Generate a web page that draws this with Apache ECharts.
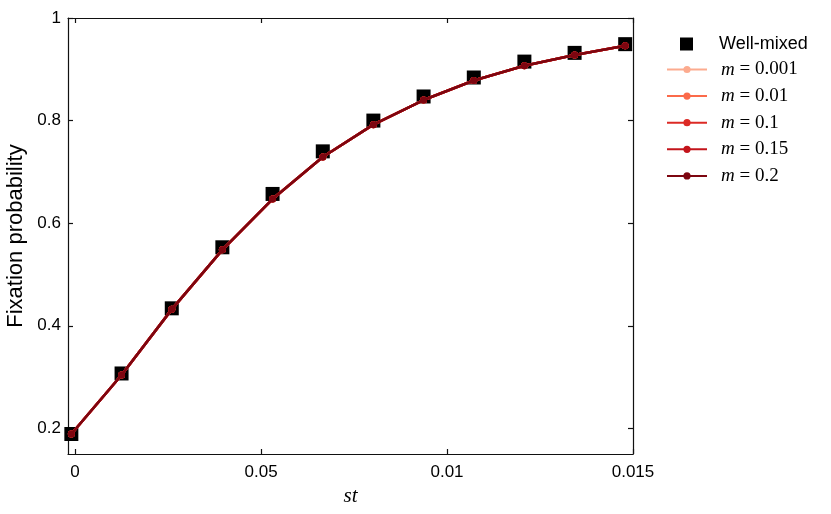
<!DOCTYPE html>
<html>
<head>
<meta charset="utf-8">
<script src="https://cdn.jsdelivr.net/npm/echarts@6/dist/echarts.min.js"></script>
<style>
html,body{margin:0;padding:0;background:#fff;}
#chart{width:831px;height:514px;}
</style>
</head>
<body>
<div id="chart"></div>
<script>
// x positions (st) of the simulated points
const xValues = [-0.0001, 0.00125, 0.0026, 0.00396, 0.00531, 0.00666, 0.00802, 0.00937, 0.01072, 0.01208, 0.01343, 0.01479];
// Well-mixed fixation probabilities (black squares)
const wellMixed = [0.189, 0.307, 0.434, 0.553, 0.657, 0.740, 0.800, 0.847, 0.884, 0.915, 0.932, 0.949];
// Metapopulation curves for different migration rates
const m0001 = [0.189, 0.304, 0.432, 0.548, 0.647, 0.729, 0.792, 0.840, 0.878, 0.907, 0.928, 0.946];
const m001  = [0.189, 0.304, 0.432, 0.548, 0.647, 0.729, 0.792, 0.840, 0.878, 0.907, 0.928, 0.946];
const m01   = [0.189, 0.304, 0.432, 0.548, 0.647, 0.729, 0.792, 0.840, 0.878, 0.907, 0.928, 0.946];
const m015  = [0.189, 0.304, 0.432, 0.548, 0.647, 0.729, 0.792, 0.840, 0.878, 0.907, 0.928, 0.946];
const m02   = [0.189, 0.304, 0.432, 0.548, 0.647, 0.729, 0.792, 0.840, 0.878, 0.907, 0.928, 0.946];
const seriesNames = ['m = 0.001', 'm = 0.01', 'm = 0.1', 'm = 0.15', 'm = 0.2'];
const seriesColors = ['#fcab8f', '#fb6a4a', '#dc2a25', '#c3141b', '#7d0610'];
const seriesData = [m0001, m001, m01, m015, m02];
// tick values and labels
const xTickValues = [0, 0.005, 0.01, 0.015];
const xTickLabels = ['0', '0.05', '0.01', '0.015'];
const yTickValues = [0.2, 0.4, 0.6, 0.8, 1];
const yTickLabels = ['0.2', '0.4', '0.6', '0.8', '1'];

const pairs = arr => arr.map((v, i) => [xValues[i], v]);

const chart = echarts.init(document.getElementById('chart'), null, {renderer: 'canvas'});

const axisLineStyle = {color: '#111', width: 1.2};
const sansFont = "'Liberation Sans', Arial, sans-serif";
const serifFont = "'Liberation Serif', 'DejaVu Serif', serif";

const series = [{
  name: 'Well-mixed',
  type: 'scatter',
  data: pairs(wellMixed),
  symbol: 'rect',
  symbolSize: 14,
  itemStyle: {color: '#000', opacity: 1},
  emphasis: {disabled: true},
  z: 2
}];
seriesData.forEach((d, k) => {
  series.push({
    name: seriesNames[k],
    type: 'line',
    data: pairs(d),
    symbol: 'circle',
    symbolSize: 7,
    showSymbol: true,
    lineStyle: {color: seriesColors[k], width: 2.6},
    itemStyle: {color: seriesColors[k], opacity: 1},
    emphasis: {disabled: true},
    z: 3 + k
  });
});

const option = {
  animation: false,
  backgroundColor: '#fff',
  grid: {left: 68, right: 198, top: 18, bottom: 60, containLabel: false, outerBoundsMode: 'none'},
  xAxis: [{
    type: 'value',
    min: -0.00019,
    max: 0.015,
    name: 'st',
    nameLocation: 'middle',
    nameGap: 26,
    nameTextStyle: {fontFamily: serifFont, fontStyle: 'italic', fontSize: 21, color: '#000'},
    axisLine: {show: true, onZero: false, lineStyle: axisLineStyle},
    axisTick: {show: true, inside: true, length: 5, lineStyle: axisLineStyle, customValues: xTickValues},
    axisLabel: {
      show: true, customValues: xTickValues, margin: 10,
      fontFamily: sansFont, fontSize: 17, color: '#000',
      formatter: v => { const i = xTickValues.findIndex(t => Math.abs(t - v) < 1e-9); return i >= 0 ? xTickLabels[i] : ''; }
    },
    splitLine: {show: false}
  }, {
    type: 'value',
    position: 'top',
    min: -0.00019,
    max: 0.015,
    axisLine: {show: true, onZero: false, lineStyle: axisLineStyle},
    axisTick: {show: true, inside: true, length: 5, lineStyle: axisLineStyle, customValues: xTickValues},
    axisLabel: {show: false},
    splitLine: {show: false}
  }],
  yAxis: [{
    type: 'value',
    min: 0.15,
    max: 1,
    name: 'Fixation probability',
    nameLocation: 'middle',
    nameGap: 39,
    nameTextStyle: {fontFamily: sansFont, fontSize: 22, color: '#000'},
    axisLine: {show: true, onZero: false, lineStyle: axisLineStyle},
    axisTick: {show: true, inside: true, length: 5, lineStyle: axisLineStyle, customValues: yTickValues},
    axisLabel: {
      show: true, customValues: yTickValues, margin: 7,
      fontFamily: sansFont, fontSize: 17, color: '#000',
      formatter: v => { const i = yTickValues.findIndex(t => Math.abs(t - v) < 1e-9); return i >= 0 ? yTickLabels[i] : ''; }
    },
    splitLine: {show: false}
  }, {
    type: 'value',
    position: 'right',
    min: 0.15,
    max: 1,
    axisLine: {show: true, onZero: false, lineStyle: axisLineStyle},
    axisTick: {show: true, inside: true, length: 5, lineStyle: axisLineStyle, customValues: yTickValues},
    axisLabel: {show: false},
    splitLine: {show: false}
  }],
  legend: [{
    data: [{name: 'Well-mixed', icon: 'rect', itemStyle: {color: '#000', opacity: 1}}],
    orient: 'vertical',
    left: 680,
    top: 35,
    padding: 0,
    itemWidth: 13,
    itemHeight: 13,
    selectedMode: false,
    textStyle: {fontFamily: sansFont, fontSize: 18, color: '#000', padding: [0, 0, 0, 21]}
  }, {
    data: seriesNames,
    orient: 'vertical',
    left: 666,
    top: 60,
    padding: 0,
    itemWidth: 40,
    itemHeight: 9,
    itemGap: 7.6,
    selectedMode: false,
    formatter: name => '{m|m}{e|' + name.slice(1) + '}',
    textStyle: {
      color: '#000', padding: [0, 0, 0, 9], lineHeight: 19,
      rich: {
        m: {fontFamily: serifFont, fontStyle: 'italic', fontSize: 19, color: '#000', lineHeight: 19},
        e: {fontFamily: serifFont, fontSize: 19, color: '#000', lineHeight: 19}
      }
    }
  }],
  series: series
};
chart.setOption(option);
</script>
</body>
</html>
